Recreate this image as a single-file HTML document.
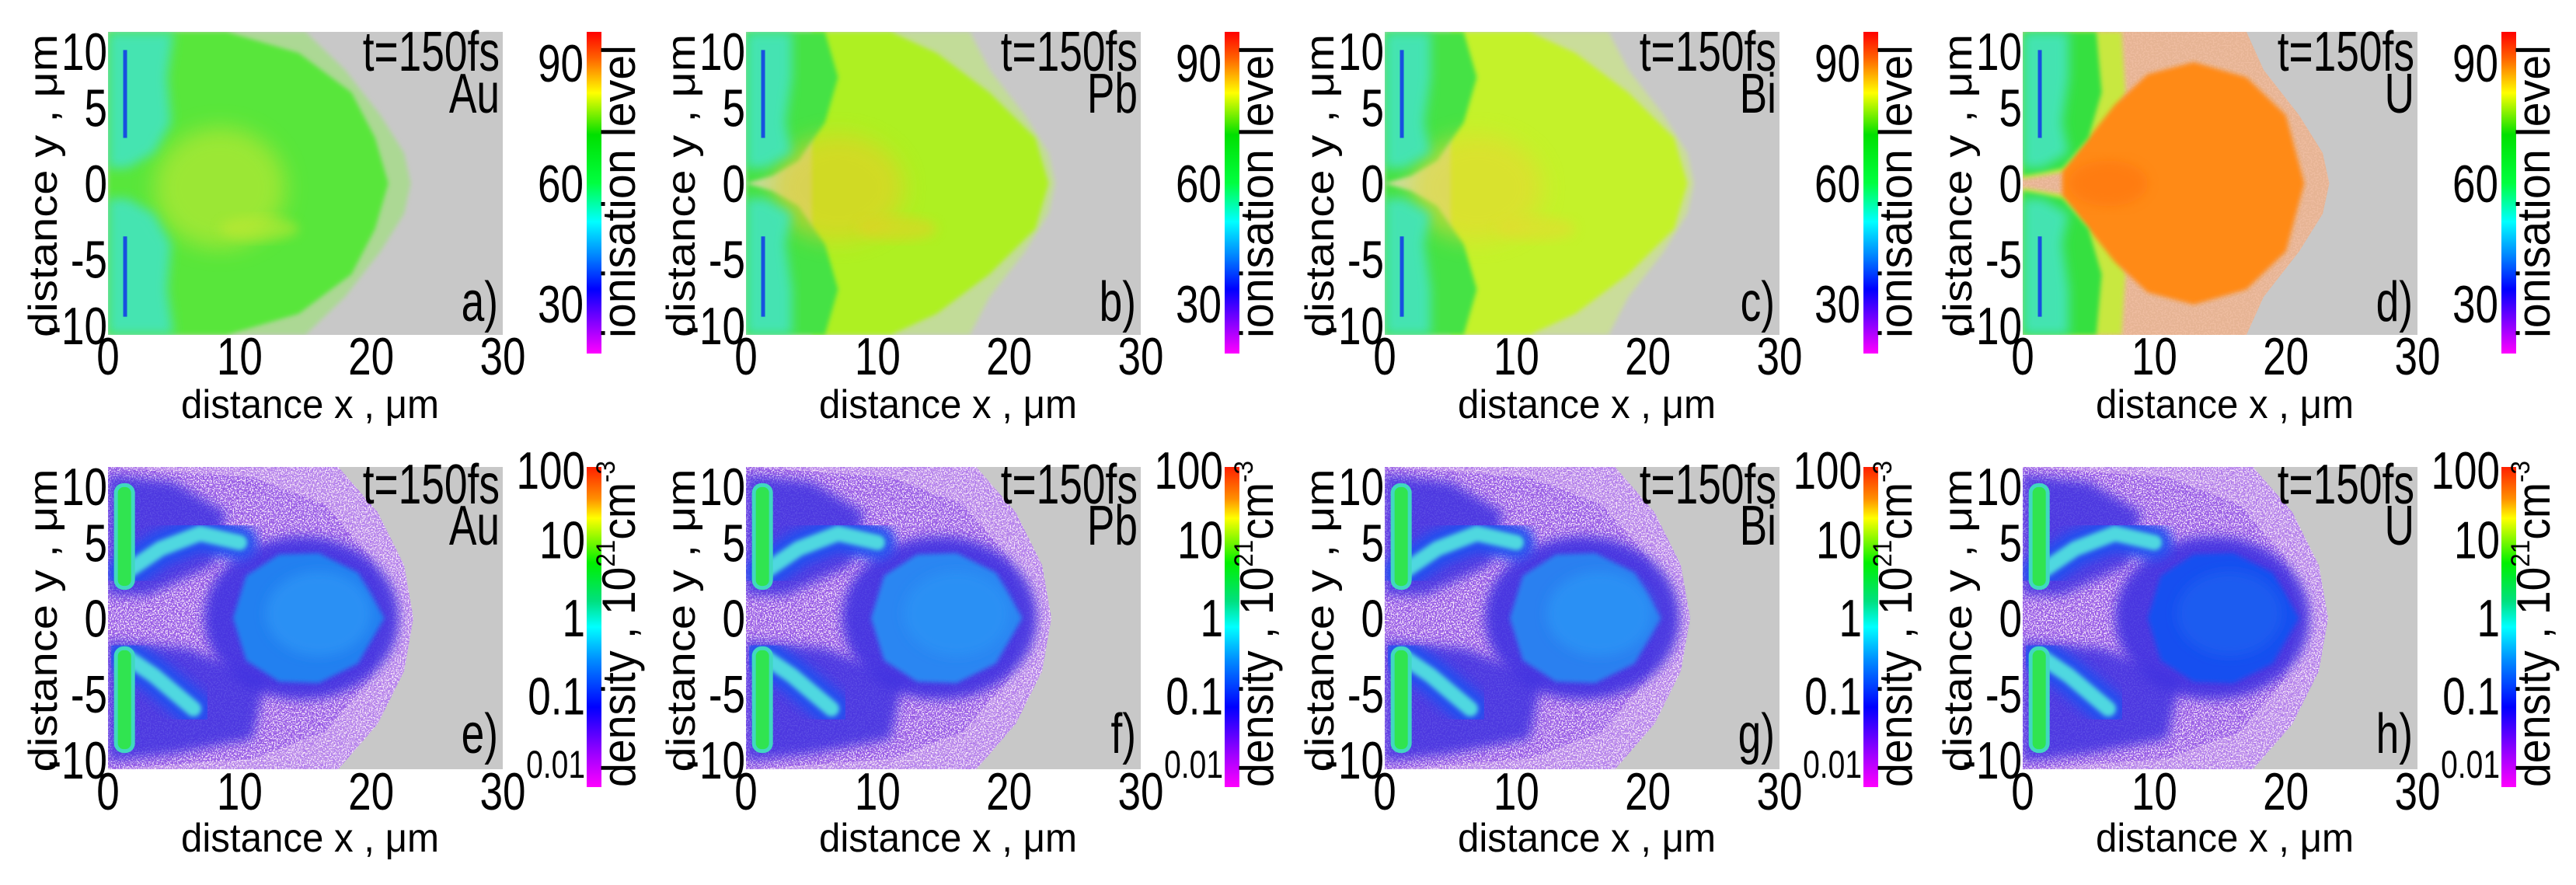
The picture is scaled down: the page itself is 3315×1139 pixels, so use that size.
<!DOCTYPE html>
<html><head><meta charset="utf-8"><style>
html,body{margin:0;padding:0;background:#fff;}
svg{display:block;font-family:"Liberation Sans",Arial,sans-serif;}
</style></head><body>
<svg id="fig" width="3315" height="1139" viewBox="0 0 3315 1139" xmlns="http://www.w3.org/2000/svg">
<defs>
<linearGradient id="ionGrad" x1="0" y1="0" x2="0" y2="1">
<stop offset="0" stop-color="#ff0000"/><stop offset="0.08" stop-color="#ff6000"/><stop offset="0.19" stop-color="#ffff00"/><stop offset="0.32" stop-color="#00e000"/><stop offset="0.47" stop-color="#00ff40"/><stop offset="0.59" stop-color="#00ffff"/><stop offset="0.7" stop-color="#0080ff"/><stop offset="0.8" stop-color="#0000ff"/><stop offset="0.9" stop-color="#8000ff"/><stop offset="1" stop-color="#ff00ff"/>
</linearGradient>
<linearGradient id="denGrad" x1="0" y1="0" x2="0" y2="1">
<stop offset="0" stop-color="#ff2000"/><stop offset="0.1" stop-color="#ff9000"/><stop offset="0.16" stop-color="#ffff00"/><stop offset="0.3" stop-color="#00f000"/><stop offset="0.42" stop-color="#00e080"/><stop offset="0.5" stop-color="#00ffff"/><stop offset="0.6" stop-color="#0090ff"/><stop offset="0.75" stop-color="#0000ff"/><stop offset="0.9" stop-color="#a000ff"/><stop offset="1" stop-color="#ff00ff"/>
</linearGradient>
<filter id="blur" x="-20%" y="-20%" width="140%" height="140%"><feGaussianBlur stdDeviation="7"/></filter>
<filter id="blurL" x="-30%" y="-30%" width="160%" height="160%"><feGaussianBlur stdDeviation="14"/></filter>
<filter id="blurS" x="-20%" y="-20%" width="140%" height="140%"><feGaussianBlur stdDeviation="3"/></filter>
<filter id="speckP" x="0" y="0" width="100%" height="100%">
<feTurbulence type="fractalNoise" baseFrequency="0.55" numOctaves="1" seed="4" result="n"/>
<feColorMatrix in="n" type="matrix" values="0 0 0 0 0.42  0 0 0 0 0.18  0 0 0 0 0.85  0 0 0 10 -4.6" result="d"/>
<feComposite in="d" in2="SourceGraphic" operator="in" result="d2"/>
<feTurbulence type="fractalNoise" baseFrequency="0.6" numOctaves="1" seed="11" result="n2"/>
<feColorMatrix in="n2" type="matrix" values="0 0 0 0 0.93  0 0 0 0 0.8  0 0 0 0 0.97  0 0 0 10 -5.2" result="l"/>
<feComposite in="l" in2="SourceGraphic" operator="in" result="l2"/>
<feMerge><feMergeNode in="SourceGraphic"/><feMergeNode in="d2"/><feMergeNode in="l2"/></feMerge>
</filter>
<filter id="speckO" x="0" y="0" width="100%" height="100%">
<feTurbulence type="fractalNoise" baseFrequency="0.5" numOctaves="1" seed="7" result="n"/>
<feColorMatrix in="n" type="matrix" values="0 0 0 0 0.85  0 0 0 0 0.5  0 0 0 0 0.35  0 0 0 9 -4.3" result="d"/>
<feComposite in="d" in2="SourceGraphic" operator="in" result="d2"/>
<feMerge><feMergeNode in="SourceGraphic"/><feMergeNode in="d2"/></feMerge>
</filter>
</defs>
</svg>
<script>
const elements = ['Au','Pb','Bi','U'];
const lettersTop = ['a)','b)','c)','d)'];
const lettersBot = ['e)','f)','g)','h)'];
const xTicks = [0,10,20,30];
const yTicks = [10,5,0,-5,-10];
const ionTicks = [90,60,30];
const ionRange = [17.6,97.7];
const denTicks = [100,10,1,0.1,0.01];
const denTickLabels = ['100','10','1','0.1','0.01'];
const denLogRange = [-2.17,1.93];
const ionMain = ['#58e63a','#aef020','#c4f22c','#ff8a18'];
const ionHalo = ['#acd894','#c2dc98','#cadd9a','#e6b494'];
const ionCore = ['#c8e830','#e8cc28','#e8d830','#ff7a10'];
const ionMainReach = [21.3,23.0,23.0,21.4];
const ionHaloReach = [23.0,23.5,23.5,23.3];
const bubbleX = [15.5,15.5,15.8,15.2];
const bubbleCol = ['#2080f0','#2a86f2','#2a80f0','#1850f0'];

const NS = 'http://www.w3.org/2000/svg';
const svg = document.getElementById('fig');
const PW = 508;
const panelLeft = [139,960,1782,2603];
const rowTop = [41,601];
const rowH = [390,389];

function el(tag, parent, attrs){
  const e = document.createElementNS(NS, tag);
  for (const k in attrs) e.setAttribute(k, attrs[k]);
  parent.appendChild(e);
  return e;
}
function label(parent, x, y, str, size, anchor, cond, rot){
  const t = document.createElementNS(NS,'text');
  t.setAttribute('x',0); t.setAttribute('y',0);
  t.setAttribute('font-size',size);
  t.setAttribute('text-anchor',anchor);
  t.setAttribute('fill','#000');
  t.setAttribute('transform',`translate(${x},${y}) rotate(${rot||0}) scale(${cond},1)`);
  t.textContent = str;
  parent.appendChild(t);
  return t;
}
function fitLabel(parent, x, y, str, size, anchor, len, rot){
  const t = document.createElementNS(NS,'text');
  t.setAttribute('x',x); t.setAttribute('y',y);
  t.setAttribute('font-size',size);
  t.setAttribute('text-anchor',anchor);
  t.setAttribute('textLength',len);
  t.setAttribute('lengthAdjust','spacingAndGlyphs');
  if (rot) t.setAttribute('transform',`rotate(${rot} ${x} ${y})`);
  t.textContent = str;
  parent.appendChild(t);
  return t;
}

for (let r=0;r<2;r++){
  for (let i=0;i<4;i++){
    const L = panelLeft[i], T = rowTop[r], H = rowH[r];
    const X = v => L + v/30*PW;
    const Y = v => T + (10-v)/20*H;
    const poly = pts => {
      const full = pts.concat(pts.slice().reverse().map(p=>[p[0],-p[1]]));
      return 'M' + full.map(p=>X(p[0]).toFixed(1)+','+Y(p[1]).toFixed(1)).join('L') + 'Z';
    };
    const half = pts => 'M' + pts.map(p=>X(p[0]).toFixed(1)+','+Y(p[1]).toFixed(1)).join('L') + 'Z';
    const ell = (g,cx,cy,rx,ry,fill,extra) => el('ellipse', g, Object.assign({cx:X(cx),cy:Y(cy),rx:rx/30*PW,ry:ry/20*H,fill:fill},extra||{}));

    const panel = el('g', svg, {});
    
    

    const cp = el('clipPath', panel, {id:`cp${r}${i}`});
    el('rect', cp, {x:L,y:T,width:PW,height:H});
    const plot = el('g', panel, {'clip-path':`url(#cp${r}${i})`});
    
    
    el('rect', plot, {x:L,y:T,width:PW,height:H,fill:'#c8c8c8'});

    if (r===0){
      const hr = ionHaloReach[i], mr = ionMainReach[i];
      const halo = el('path', plot, {d:poly([[0,10],[i===0?15:17,10],[hr-5,7.5],[hr-2.3,4.5],[hr-0.5,2],[hr,0]]), fill:ionHalo[i], filter: i===3?'url(#speckO)':'url(#blurS)'});
      
      
      if (i===3){
        el('path', plot, {d:poly([[0,10],[7.5,10],[7.8,6],[6.5,3],[3.5,0.8],[0,0.3]]), fill:'#c8e840', filter:'url(#blurS)'});
        const m = el('path', plot, {d:poly([[3,0.8],[5,3],[7,5.2],[9.5,7.2],[13,8],[17,7],[20,4.5],[mr,0]]), fill:ionMain[i], filter:'url(#blurS)'});
        
        
        el('path', plot, {d:poly([[0,10],[5.6,10],[6,6],[5,3],[3,1],[0,0.5]]), fill:'#34e040', filter:'url(#blurS)'});
        ell(plot,6.5,0,3,1.5,'#ff7010',{filter:'url(#blur)',opacity:0.5});
      } else {
        const m = el('path', plot, {d:poly([[i===0?0:5,10],[i===0?9:11,10],[14.5,8.6],[18.5,6],[mr-1,3],[mr,0]]), fill:ionMain[i], filter:'url(#blurS)'});
        
        
        if (i>0) el('path', plot, {d:poly([[0,10],[6,10],[7,7],[6,4],[4,1.5],[2,0.5],[0,0]]), fill:'#44e244', filter:'url(#blurS)'});
        const core = ell(plot, i===0?8.5:7, -0.3, i===0?5:5, i===0?4:3.5, ionCore[i], {filter:'url(#blurL)',opacity:0.6});
        
        
        ell(plot, 11.5, -3, 3, 0.8, ionCore[i], {filter:'url(#blur)',opacity:0.5});
      }
      el('path', plot, {d:poly([[0,10],[i===0?5:3.5,10],[i===0?4.5:3.5,7],[i===0?4.8:3,4],[3.5,2],[1.5,1],[0,1]]), fill:'#44e4b8', filter:'url(#blur)', opacity:0.95});
      const ln1 = el('line', plot, {x1:X(1.3),y1:Y(8.8),x2:X(1.3),y2:Y(3),stroke:'#1850e0','stroke-width':5});
      
      
      const ln2 = el('line', plot, {x1:X(1.3),y1:Y(-3.5),x2:X(1.3),y2:Y(-8.8),stroke:'#1850e0','stroke-width':5});
      
      
    } else {
      const halo = el('path', plot, {d:poly([[0,10],[17.5,10],[20.5,7],[22.5,3.5],[23.2,0]]), fill:'#c49ae8', filter:'url(#speckP)'});
      
      
      const inner = el('path', plot, {d:poly([[0,10],[11,9.3],[16.5,7.5],[20,4],[20.8,0]]), fill:'#8a48e2', filter:'url(#speckP)', opacity:0.85});
      
      
      ell(plot, bubbleX[i]-0.8, 0, 7.4, 5.4, '#4030e0', {filter:'url(#blur)',opacity:0.9});
      el('path', plot, {d:half([[0,9.5],[5,9],[9,7],[8,3.5],[3,1.5],[0,1.5]]), fill:'#4030e0', filter:'url(#blur)',opacity:0.85});
      el('path', plot, {d:half([[0,-9.5],[5,-9],[11,-8],[12,-4],[6,-2],[0,-1.5]]), fill:'#4030e0', filter:'url(#blur)',opacity:0.85});
      const bub = el('path', plot, {d:poly([[9.5,0],[10.5,2.8],[13,4.2],[16,4.3],[19,3],[21,0]]), fill:bubbleCol[i], filter:'url(#blurS)'});
      
      
      ell(plot, bubbleX[i]+0.5, 0.3, 4, 2.8, i===3?'#1c5cf0':'#2c90f4', {filter:'url(#blur)'});
      const armPts = [[[1.3,3],[4,4.6],[7,5.6],[10,5]],[[1.3,-2.5],[3.5,-3.8],[6.5,-6]]];
      armPts.forEach((a,k)=>{
        const d = 'M'+a.map(p=>X(p[0])+','+Y(p[1])).join('L');
        el('path', plot, {d:d, stroke:'#2050f0','stroke-width':46,fill:'none','stroke-linecap':'round',filter:'url(#blur)'});
        const arm = el('path', plot, {d:d, stroke:'#50d8e0','stroke-width':20,fill:'none','stroke-linecap':'round',filter:'url(#blurS)'});
        
        
      });
      [[2,8.8],[-8.8,-2]].forEach((b,k)=>{
        const bar = el('rect', plot, {x:X(0.6),y:Y(b[1]),width:X(1.9)-X(0.6),height:Y(b[0])-Y(b[1]),rx:10,fill:'#30e450',stroke:'#40d8c0','stroke-width':5});
        
        
      });
    }

    const tl = label(panel, L+504, T+(r===0?50:47), 't=150fs', 72, 'end', 0.74);
    
    
    const elab = label(panel, L+504, T+(r===0?104:100), elements[i], 72, 'end', 0.74);
    
    
    const pl = label(panel, L+502, T+(r===0?372:368), (r===0?lettersTop:lettersBot)[i], 72, 'end', 0.74);
    
    

    xTicks.forEach(v=>{
      const t = label(panel, X(v), T+H+(r===0?51:52), String(v), 68, 'middle', 0.78);
      
      
    });
    yTicks.forEach(v=>{
      const cy = Math.min(Math.max(Y(v), T+25), T+H-12);
      const t = label(panel, L-1, cy+24, String(v), 68, 'end', 0.78);
      
      
    });
    const xt = fitLabel(panel, L+PW/2+6, r===0?538:1096, 'distance x , μm', 52, 'middle', 332);
    
    
    const yt = fitLabel(panel, L-66, T+H/2+3, 'distance y , μm', 52, 'middle', 390, -90);
    
    

    const cbx = L+616, cbTop = T, cbBot = r===0?455:1013;
    const cb = el('rect', panel, {x:cbx,y:cbTop,width:19,height:cbBot-cbTop,fill:r===0?'url(#ionGrad)':'url(#denGrad)'});
    
    
    if (r===0){
      const CY = v => cbTop + (ionRange[1]-v)/(ionRange[1]-ionRange[0])*(cbBot-cbTop);
      ionTicks.forEach(v=>{
        const cy = Math.min(Math.max(CY(v), cbTop+25), cbBot-25);
        const t = label(panel, cbx-4, cy+24, String(v), 68, 'end', 0.78);
        
        
      });
      const cl = fitLabel(panel, cbx+62, 435, 'ionisation level', 60, 'start', 377, -90);
      
      
    } else {
      const CY = v => cbTop + (denLogRange[1]-Math.log10(v))/(denLogRange[1]-denLogRange[0])*(cbBot-cbTop);
      denTicks.forEach((v,k)=>{
        let cy = CY(v);
        const small = k===denTicks.length-1;
        cy = Math.min(Math.max(cy, cbTop+4), cbBot-30);
        const t = label(panel, cbx-2, cy+(small?18:24), denTickLabels[k], small?50:68, 'end', 0.78);
        
        
      });
      const t = document.createElementNS(NS,'text');
      t.setAttribute('x',cbx+62); t.setAttribute('y',1013);
      t.setAttribute('font-size',60);
      t.setAttribute('textLength',420);
      t.setAttribute('lengthAdjust','spacingAndGlyphs');
      t.setAttribute('transform',`rotate(-90 ${cbx+62} 1013)`);
      t.innerHTML = 'density , 10<tspan font-size="34" dy="-26">21</tspan><tspan dy="26">cm</tspan><tspan font-size="34" dy="-26">-3</tspan>';
      panel.appendChild(t);
      
      
    }
  }
}
</script>
</body></html>
